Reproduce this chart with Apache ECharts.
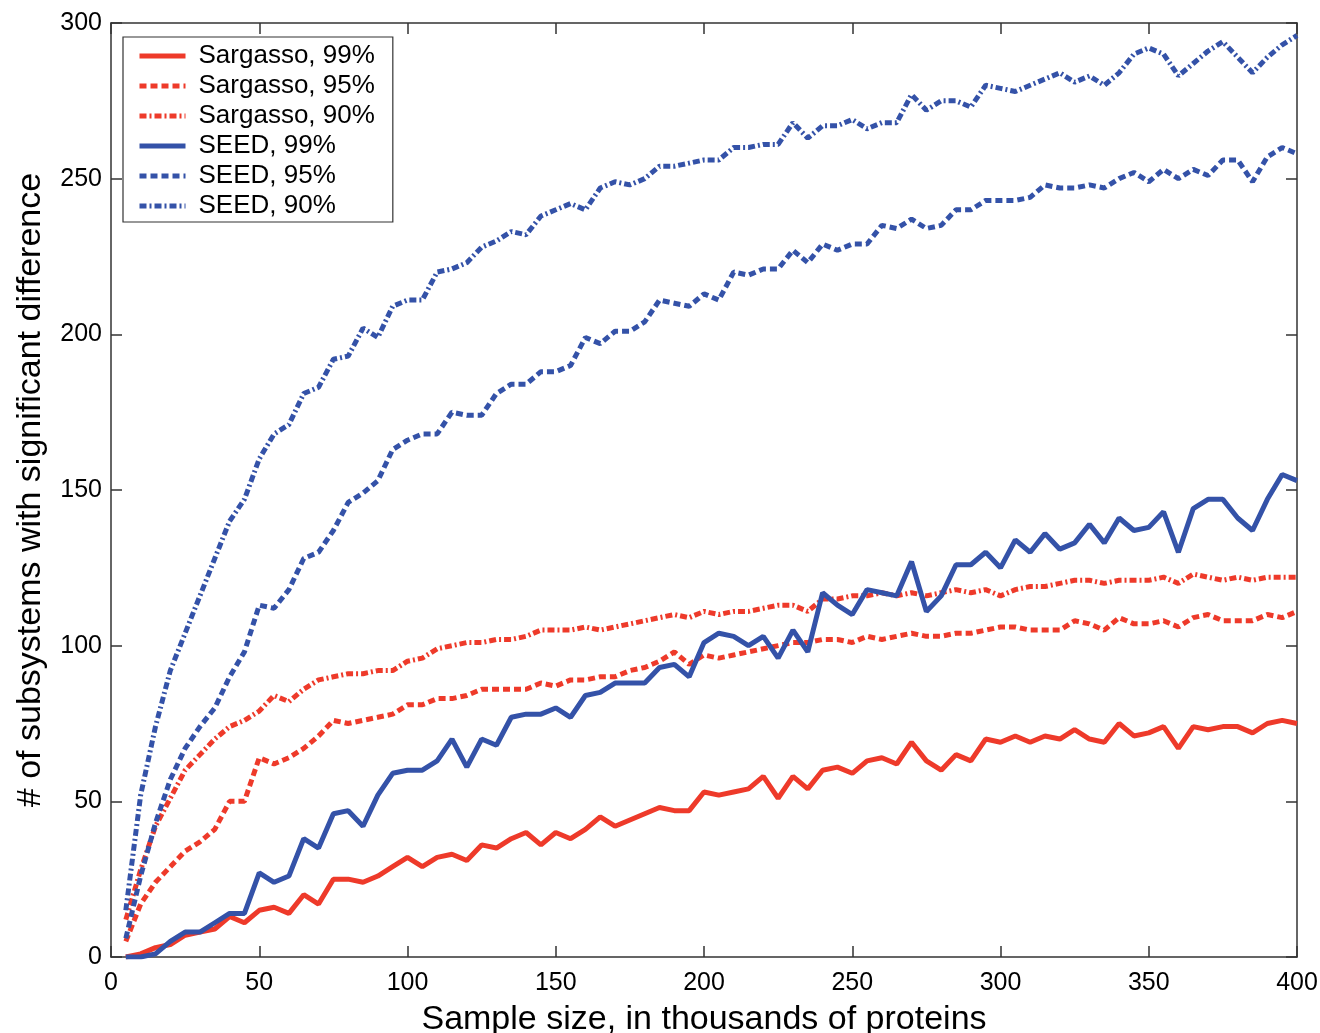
<!DOCTYPE html>
<html lang="en">
<head>
    <meta charset="UTF-8">
    <title>Subsystems with significant difference</title>
    <script src="https://cdn.jsdelivr.net/npm/echarts@6/dist/echarts.min.js"></script>
    <style>
        body { margin: 0; background: #fff; }
    </style>
</head>
<body>
<div id="main" style="width: 1320px;height:1033px;"></div>
<script type="text/javascript">
    // sample size (thousands of proteins)
    var sampleSize = [5, 10, 15, 20, 25, 30, 35, 40, 45, 50, 55, 60, 65, 70, 75, 80, 85, 90, 95, 100,
        105, 110, 115, 120, 125, 130, 135, 140, 145, 150, 155, 160, 165, 170, 175, 180, 185, 190, 195, 200,
        205, 210, 215, 220, 225, 230, 235, 240, 245, 250, 255, 260, 265, 270, 275, 280, 285, 290, 295, 300,
        305, 310, 315, 320, 325, 330, 335, 340, 345, 350, 355, 360, 365, 370, 375, 380, 385, 390, 395, 400];

    var sargasso99 = [0, 1, 3, 4, 7, 8, 9, 13, 11, 15, 16, 14, 20, 17, 25, 25, 24, 26, 29, 32,
        29, 32, 33, 31, 36, 35, 38, 40, 36, 40, 38, 41, 45, 42, 44, 46, 48, 47, 47, 53,
        52, 53, 54, 58, 51, 58, 54, 60, 61, 59, 63, 64, 62, 69, 63, 60, 65, 63, 70, 69,
        71, 69, 71, 70, 73, 70, 69, 75, 71, 72, 74, 67, 74, 73, 74, 74, 72, 75, 76, 75];

    var sargasso95 = [5, 17, 24, 29, 34, 37, 41, 50, 50, 64, 62, 64, 67, 71, 76, 75, 76, 77, 78, 81,
        81, 83, 83, 84, 86, 86, 86, 86, 88, 87, 89, 89, 90, 90, 92, 93, 95, 98, 94, 97,
        96, 97, 98, 99, 100, 101, 101, 102, 102, 101, 103, 102, 103, 104, 103, 103, 104, 104, 105, 106,
        106, 105, 105, 105, 108, 107, 105, 109, 107, 107, 108, 106, 109, 110, 108, 108, 108, 110, 109, 111];

    var sargasso90 = [12, 28, 42, 51, 60, 65, 70, 74, 76, 79, 84, 82, 86, 89, 90, 91, 91, 92, 92, 95,
        96, 99, 100, 101, 101, 102, 102, 103, 105, 105, 105, 106, 105, 106, 107, 108, 109, 110, 109, 111,
        110, 111, 111, 112, 113, 113, 111, 115, 115, 116, 116, 117, 116, 117, 116, 117, 118, 117, 118, 116,
        118, 119, 119, 120, 121, 121, 120, 121, 121, 121, 122, 120, 123, 122, 121, 122, 121, 122, 122, 122];

    var seed99 = [0, 0, 1, 5, 8, 8, 11, 14, 14, 27, 24, 26, 38, 35, 46, 47, 42, 52, 59, 60,
        60, 63, 70, 61, 70, 68, 77, 78, 78, 80, 77, 84, 85, 88, 88, 88, 93, 94, 90, 101,
        104, 103, 100, 103, 96, 105, 98, 117, 113, 110, 118, 117, 116, 127, 111, 116, 126, 126, 130, 125,
        134, 130, 136, 131, 133, 139, 133, 141, 137, 138, 143, 130, 144, 147, 147, 141, 137, 147, 155, 153];

    var seed95 = [6, 26, 43, 57, 67, 74, 80, 90, 98, 113, 112, 118, 128, 130, 137, 146, 149, 153, 163, 166,
        168, 168, 175, 174, 174, 181, 184, 184, 188, 188, 190, 199, 197, 201, 201, 204, 211, 210, 209, 213,
        211, 220, 219, 221, 221, 227, 223, 229, 227, 229, 229, 235, 234, 237, 234, 235, 240, 240, 243, 243,
        243, 244, 248, 247, 247, 248, 247, 250, 252, 249, 253, 250, 253, 251, 256, 256, 249, 257, 260, 258];

    var seed90 = [15, 52, 74, 92, 104, 116, 128, 140, 147, 160, 168, 171, 181, 183, 192, 193, 202, 199, 209, 211,
        211, 220, 221, 223, 228, 230, 233, 232, 238, 240, 242, 240, 247, 249, 248, 250, 254, 254, 255, 256,
        256, 260, 260, 261, 261, 268, 263, 267, 267, 269, 266, 268, 268, 277, 272, 275, 275, 273, 280, 279,
        278, 280, 282, 284, 281, 283, 280, 284, 290, 292, 290, 283, 287, 291, 294, 289, 284, 289, 293, 296];

    var yTicks = [0, 50, 100, 150, 200, 250, 300];
    var xTicks = [0, 50, 100, 150, 200, 250, 300, 350, 400];

    var red = '#ee3a2a';
    var blue = '#3452a8';

    function pairs(ys) {
        var out = [];
        for (var i = 0; i < sampleSize.length; i++) {
            out.push([sampleSize[i], ys[i]]);
        }
        return out;
    }

    function makeSeries(name, ys, color, type) {
        return {
            name: name,
            type: 'line',
            data: pairs(ys),
            symbol: 'none',
            smooth: false,
            animation: false,
            lineStyle: { color: color, width: 5, type: type },
            itemStyle: { color: color }
        };
    }

    var dashed = [7, 4];
    var dashDot = [7, 3, 2, 3];

    var fontFam = '"Liberation Sans", Arial, Helvetica, sans-serif';

    var myChart = echarts.init(document.getElementById('main'));

    var axisLineStyle = { color: '#333', width: 1.5 };

    // frame axes (top / right) only carry the inner ticks
    var frameX = {
        type: 'value', position: 'top', min: 0, max: 400, interval: 50,
        axisLine: { show: true, onZero: false, lineStyle: axisLineStyle },
        axisTick: { show: true, inside: true, length: 11, lineStyle: axisLineStyle },
        axisLabel: { show: false },
        splitLine: { show: false }
    };
    var frameY = {
        type: 'value', position: 'right', min: 0, max: 300, interval: 50,
        axisLine: { show: true, onZero: false, lineStyle: axisLineStyle },
        axisTick: { show: true, inside: true, length: 11, lineStyle: axisLineStyle },
        axisLabel: { show: false },
        splitLine: { show: false }
    };

    myChart.setOption({
        backgroundColor: '#fff',
        animation: false,
        grid: { left: 111, right: 23, top: 23, bottom: 76, containLabel: false, outerBoundsMode: 'none' },
        legend: {
            orient: 'vertical',
            left: 123,
            top: 37,
            itemWidth: 46,
            itemHeight: 20,
            itemGap: 4,
            padding: [6, 18, 3, 14],
            borderColor: '#333',
            borderWidth: 1.2,
            backgroundColor: '#fff',
            itemStyle: { opacity: 0 },
            lineStyle: { width: 5 },
            data: ['Sargasso, 99%', 'Sargasso, 95%', 'Sargasso, 90%', 'SEED, 99%', 'SEED, 95%', 'SEED, 90%'],
            textStyle: {
                color: '#000',
                fontSize: 26,
                fontFamily: fontFam,
                padding: [0, 0, 0, 8]
            }
        },
        xAxis: [
            {
                type: 'value',
                position: 'bottom',
                min: 0,
                max: 400,
                interval: 50,
                name: 'Sample size, in thousands of proteins',
                nameLocation: 'middle',
                nameGap: 46,
                nameTextStyle: { fontSize: 34, color: '#000', fontFamily: fontFam },
                axisLine: { show: true, onZero: false, lineStyle: axisLineStyle },
                axisTick: { show: true, inside: true, length: 11, lineStyle: axisLineStyle },
                axisLabel: {
                    fontSize: 25, color: '#000', fontFamily: fontFam, margin: 14,
                    formatter: function (v) { return xTicks.indexOf(v) >= 0 ? String(v) : ''; }
                },
                splitLine: { show: false }
            },
            frameX
        ],
        yAxis: [
            {
                type: 'value',
                position: 'left',
                min: 0,
                max: 300,
                interval: 50,
                name: '# of subsystems with significant difference',
                nameLocation: 'middle',
                nameGap: 63,
                nameTextStyle: { fontSize: 34, color: '#000', fontFamily: fontFam },
                axisLine: { show: true, onZero: false, lineStyle: axisLineStyle },
                axisTick: { show: true, inside: true, length: 11, lineStyle: axisLineStyle },
                axisLabel: {
                    fontSize: 25, color: '#000', fontFamily: fontFam, margin: 9,
                    formatter: function (v) { return yTicks.indexOf(v) >= 0 ? String(v) : ''; }
                },
                splitLine: { show: false }
            },
            frameY
        ],
        series: [
            makeSeries('Sargasso, 99%', sargasso99, red, 'solid'),
            makeSeries('Sargasso, 95%', sargasso95, red, dashed),
            makeSeries('Sargasso, 90%', sargasso90, red, dashDot),
            makeSeries('SEED, 99%', seed99, blue, 'solid'),
            makeSeries('SEED, 95%', seed95, blue, dashed),
            makeSeries('SEED, 90%', seed90, blue, dashDot)
        ]
    });
</script>
</body>
</html>
